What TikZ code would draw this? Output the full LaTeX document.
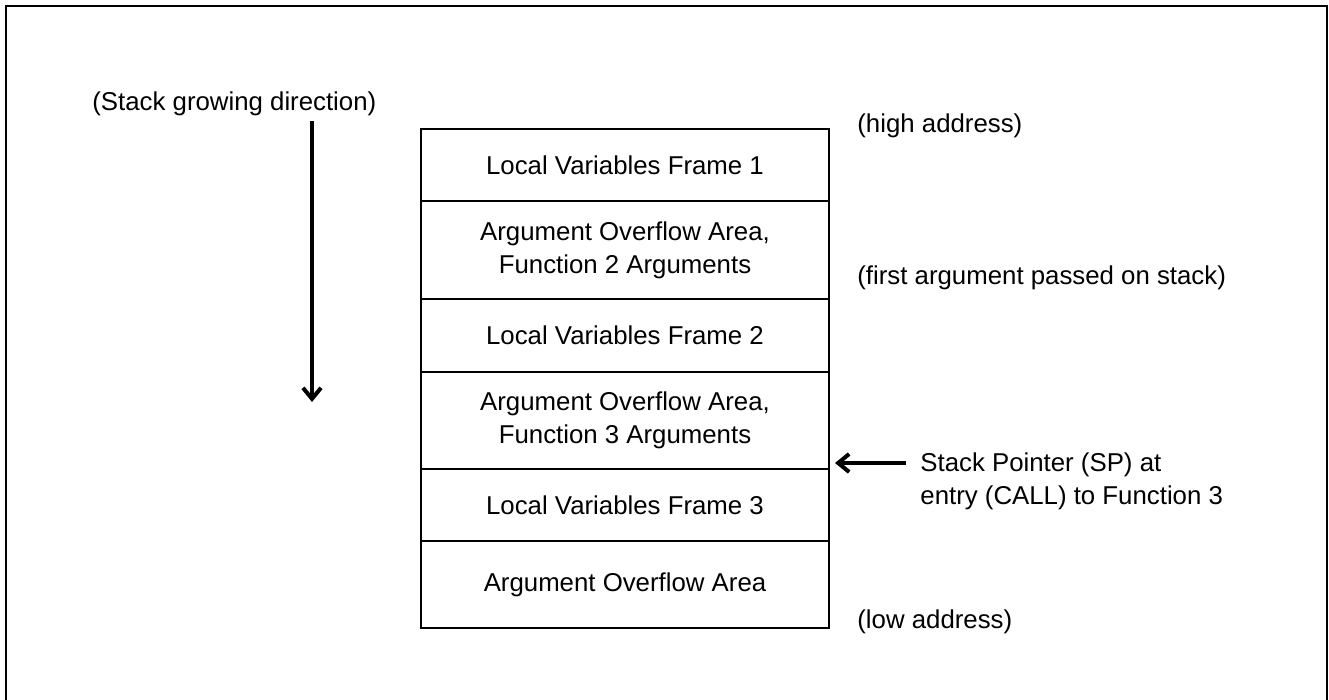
\documentclass[tikz,border=0pt]{standalone}
\usepackage{fontspec}
\setmainfont{Liberation Sans}
\usetikzlibrary{positioning}
\usetikzlibrary{arrows.meta}

\begin{document}
\begin{tikzpicture}[x=0.5pt, y=-0.5pt,
		font=\fontsize{12.9pt}{16.5pt}\selectfont,
		>={Straight Barb[length=5.5pt, width=9pt]},
		cell/.style={draw, line width=1pt, minimum width=204pt, inner sep=0pt, align=center},
		note/.style={anchor=west, inner sep=0pt, align=left},
		pointer/.style={->, line width=2pt}]
			\useasboundingbox (0,0) rectangle (1329,700);
			\draw[line width=1pt] (6,700) -- (6,6) -- (1327,6) -- (1327,700);
			% stack cells, top to bottom
			\node[cell, minimum height=36pt] (cell-0) at (625,165.0) {Local Variables Frame 1};
			\node[cell, minimum height=49pt] (cell-1) at (625,250.0) {Argument Overflow Area,\\Function 2 Arguments};
			\node[cell, minimum height=36.5pt] (cell-2) at (625,335.5) {Local Variables Frame 2};
			\node[cell, minimum height=48.5pt] (cell-3) at (625,420.5) {Argument Overflow Area,\\Function 3 Arguments};
			\node[cell, minimum height=36pt] (cell-4) at (625,505.0) {Local Variables Frame 3};
			\node[cell, minimum height=43.5pt] (cell-5) at (625,584.5) {Argument Overflow Area};
			% labels
			\node[note] (grow-label) at (92,104) {(Stack growing direction)};
			\node[note] (high-label) at (857,126) {(high address)};
			\node[note] (first-label) at (857,278) {(first argument passed on stack)};
			\node[note] (sp-label) at (920,481) {Stack Pointer (SP) at\\entry (CALL) to Function 3};
			\node[note] (low-label) at (857,622) {(low address)};
			% arrows
			\coordinate (grow-top) at (312,121);
			\coordinate (grow-tip) at (312,402);
			\coordinate (sp-tail) at (906,463);
			\coordinate (sp-tip) at (835,463);
			\draw[pointer] (grow-top) to (grow-tip);
			\draw[pointer] (sp-tail) to (sp-tip);
		\end{tikzpicture}
\end{document}
